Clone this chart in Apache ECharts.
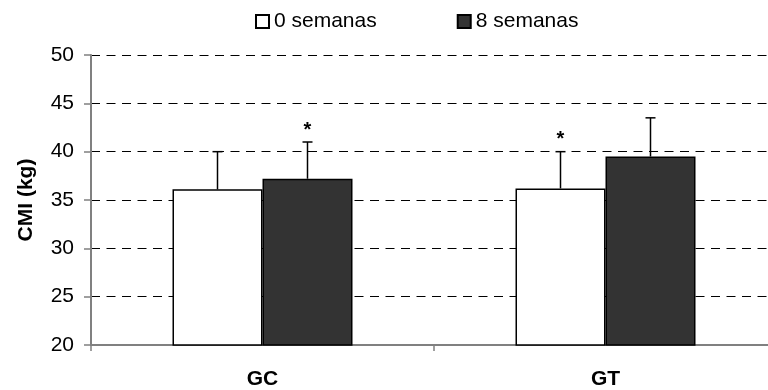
<!DOCTYPE html>
<html>
<head>
<meta charset="utf-8">
<script src="https://cdn.jsdelivr.net/npm/echarts@6/dist/echarts.min.js"></script>
<style>
html,body{margin:0;padding:0;background:#fff;}
#chart{width:768px;height:390px;}
</style>
</head>
<body>
<div id="chart"></div>
<script>
var categories = ['GC', 'GT'];
var seriesNames = ['0 semanas', '8 semanas'];
var values0 = [36.1, 36.2];
var values8 = [37.2, 39.5];
var errors0 = [3.9, 3.8];
var errors8 = [3.8, 4.0];
var marks0 = ['', '*'];
var marks8 = ['*', ''];
var yTicks = [20, 25, 30, 35, 40, 45, 50];

var FONT = 'Arial, "Liberation Sans", sans-serif';
var BAR_FRAC = 90 / 343;

function errSeries(name, vals, errs, marks, side) {
  return {
    type: 'custom',
    name: name + ' err',
    z: 5,
    data: vals.map(function (v, i) { return [i, v, errs[i], marks[i]]; }),
    renderItem: function (params, api) {
      var c = api.value(0), v = api.value(1), e = api.value(2);
      var m = marks[params.dataIndex];
      var band = api.size([1, 0])[0];
      var off = side * band * BAR_FRAC / 2;
      var p0 = api.coord([c, v]);
      var p1 = api.coord([c, v + e]);
      var x = p0[0] + off;
      var cap = 5;
      var children = [
        { type: 'line', shape: { x1: x, y1: p0[1], x2: x, y2: p1[1] }, style: { stroke: '#000', lineWidth: 1.5 } },
        { type: 'line', shape: { x1: x - cap, y1: p1[1], x2: x + cap, y2: p1[1] }, style: { stroke: '#000', lineWidth: 1.5 } }
      ];
      if (m) {
        children.push({ type: 'text', style: { text: m, x: x, y: p1[1] - 2, align: 'center', verticalAlign: 'bottom', fill: '#000', font: 'bold 20px ' + FONT } });
      }
      return { type: 'group', children: children };
    },
    silent: true,
    tooltip: { show: false }
  };
}

var chart = echarts.init(document.getElementById('chart'));
chart.setOption({
  animation: false,
  backgroundColor: '#fff',
  legend: {
    data: seriesNames,
    left: 255,
    top: 11,
    padding: 0,
    itemWidth: 13,
    itemHeight: 13,
    itemGap: 80,
    icon: 'rect',
    textStyle: { fontFamily: FONT, fontSize: 21, color: '#000' }
  },
  grid: { left: 91, top: 55, width: 686, height: 290, outerBoundsMode: 'none', containLabel: false },
  xAxis: {
    type: 'category',
    data: categories,
    axisLine: { lineStyle: { color: '#808080', width: 2 } },
    axisTick: { show: true, length: 6, alignWithLabel: false, lineStyle: { color: '#808080', width: 1.5 } },
    axisLabel: { fontFamily: FONT, fontSize: 21, fontWeight: 'bold', color: '#000', margin: 24 }
  },
  yAxis: {
    type: 'value',
    min: yTicks[0],
    max: yTicks[yTicks.length - 1],
    interval: 5,
    name: 'CMI (kg)',
    nameLocation: 'middle',
    nameGap: 54,
    nameTextStyle: { fontFamily: FONT, fontSize: 21, fontWeight: 'bold', color: '#000' },
    axisLine: { show: true, lineStyle: { color: '#808080', width: 2 } },
    axisTick: { show: true, length: 7, lineStyle: { color: '#808080', width: 1.5 } },
    axisLabel: { fontFamily: FONT, fontSize: 21, color: '#000', margin: 17 },
    splitLine: { show: true, lineStyle: { color: '#000', width: 1, type: [9, 6.5] } }
  },
  series: [
    {
      name: seriesNames[0], type: 'bar', data: values0, barWidth: 90, barGap: '0%',
      itemStyle: { color: '#fff', borderColor: '#000', borderWidth: 1.5 }
    },
    {
      name: seriesNames[1], type: 'bar', data: values8, barWidth: 90, barGap: '0%',
      itemStyle: { color: '#333333', borderColor: '#000', borderWidth: 1.5 }
    },
    errSeries(seriesNames[0], values0, errors0, marks0, -1),
    errSeries(seriesNames[1], values8, errors8, marks8, 1)
  ]
});
</script>
</body>
</html>
